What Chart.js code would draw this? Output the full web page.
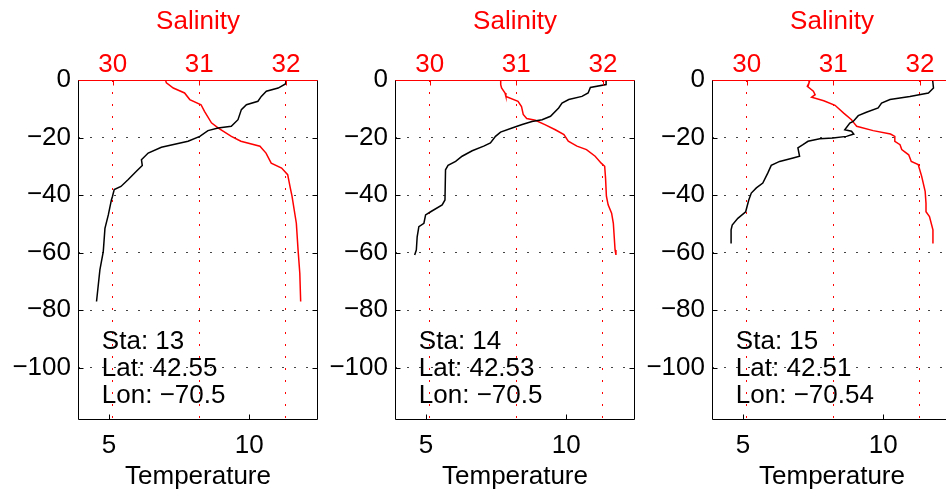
<!DOCTYPE html>
<html>
<head>
<meta charset="utf-8">
<script src="https://cdn.jsdelivr.net/npm/chart.js@4.4.1/dist/chart.umd.min.js"></script>
<style>
  html, body { margin: 0; padding: 0; background: #fff; overflow: hidden; }
  #wrap { position: relative; width: 946px; height: 497px; overflow: hidden; }
  canvas { position: absolute; top: 0; }
</style>
</head>
<body>
<div id="wrap">
  <canvas id="p1" width="322" height="497" style="left:0px"></canvas>
  <canvas id="p2" width="322" height="497" style="left:317px"></canvas>
  <canvas id="p3" width="322" height="497" style="left:634px"></canvas>
</div>
<script>
// axis ticks
const depthTicks = [0, -20, -40, -60, -80, -100];
const tempTicks = [5, 10];
const salTicks = [30, 31, 32];

// station labels
const stations = [13, 14, 15];
const lats = [42.55, 42.53, 42.51];
const lons = [-70.5, -70.5, -70.54];

// station 13
const tDepth13 = [0, -1.4, -2.8, -3.9, -5.7, -7.4, -8.6, -10.3, -13.8, -16.1, -16.7, -17.6, -19.6, -21.3, -23.4, -25.4, -27.7, -29.7, -31.7, -34.6, -37.0, -38.1, -40.4, -41.7, -46.9, -51.6, -59.7, -66.0, -77.0];
const temp13 = [11.33, 11.29, 11.03, 10.61, 10.43, 10.31, 9.90, 9.72, 9.60, 9.36, 8.89, 8.53, 8.24, 7.82, 6.87, 6.40, 6.16, 6.19, 5.98, 5.69, 5.43, 5.19, 5.13, 5.09, 4.98, 4.86, 4.80, 4.68, 4.56];
const sDepth13 = [0, -1.0, -2.8, -4.5, -6.8, -8.6, -10.9, -14.9, -16.7, -19.6, -21.3, -23.0, -25.4, -28.9, -30.6, -32.9, -37.5, -40.4, -49.8, -59.1, -67.2, -77.0];
const sal13 = [30.61, 30.62, 30.70, 30.83, 30.89, 31.02, 31.06, 31.14, 31.22, 31.37, 31.48, 31.70, 31.77, 31.83, 31.95, 32.02, 32.05, 32.07, 32.12, 32.14, 32.16, 32.17];

// station 14
const tDepth14 = [0, -1.6, -2.6, -4.5, -5.7, -6.8, -8.0, -9.7, -12.6, -13.8, -14.4, -15.5, -16.7, -18.1, -19.6, -21.9, -23.0, -24.6, -26.5, -28.3, -29.7, -31.2, -41.7, -43.4, -45.8, -46.9, -49.8, -51.0, -54.5, -59.1, -60.8];
const temp14 = [11.42, 11.42, 10.86, 10.78, 10.56, 10.09, 9.85, 9.73, 9.44, 9.14, 8.78, 8.43, 8.07, 7.66, 7.48, 7.30, 7.06, 6.65, 6.29, 6.06, 5.79, 5.70, 5.68, 5.58, 5.17, 4.99, 4.93, 4.75, 4.69, 4.66, 4.60];
const sDepth14 = [0, -1.6, -2.8, -4.5, -5.7, -7.4, -9.2, -12.0, -13.4, -14.0, -15.5, -17.3, -19.0, -21.3, -23.0, -24.2, -26.5, -28.9, -30.0, -34.1, -40.4, -43.4, -46.3, -49.8, -59.1, -60.8];
const sal14 = [30.82, 30.82, 30.83, 30.87, 30.88, 31.02, 31.06, 31.08, 31.12, 31.22, 31.33, 31.45, 31.55, 31.60, 31.70, 31.81, 31.91, 31.98, 32.02, 32.03, 32.04, 32.06, 32.10, 32.12, 32.14, 32.15];

// station 15
const tDepth15 = [0, -2.8, -4.5, -5.7, -6.8, -8.0, -9.7, -11.2, -12.4, -14.4, -15.0, -17.3, -17.8, -18.8, -19.6, -20.2, -20.4, -21.3, -22.5, -23.6, -26.5, -27.1, -28.3, -29.7, -32.3, -35.8, -37.5, -39.3, -41.7, -45.8, -48.1, -50.4, -52.1, -56.8];
const temp15 = [11.76, 11.79, 11.61, 10.95, 10.24, 9.94, 9.82, 9.40, 9.11, 8.93, 8.81, 8.63, 8.87, 8.95, 8.69, 8.21, 7.74, 7.32, 7.14, 6.96, 7.02, 6.79, 6.31, 6.01, 5.89, 5.71, 5.48, 5.30, 5.21, 5.10, 4.82, 4.62, 4.58, 4.58];
const sDepth15 = [0, -1.0, -2.2, -3.9, -5.1, -6.0, -7.2, -8.8, -11.5, -13.8, -15.0, -16.1, -17.6, -18.8, -19.6, -21.3, -22.5, -24.2, -26.0, -28.3, -29.4, -33.5, -38.7, -42.9, -45.8, -47.5, -52.1, -56.8];
const sal15 = [30.73, 30.72, 30.70, 30.77, 30.79, 30.75, 30.89, 31.02, 31.12, 31.21, 31.24, 31.27, 31.46, 31.66, 31.71, 31.71, 31.77, 31.79, 31.87, 31.90, 31.98, 32.02, 32.06, 32.07, 32.07, 32.11, 32.15, 32.15];

const RED = '#ff0000';
const FONT = "'Liberation Sans', Arial, Helvetica, sans-serif";
Chart.defaults.font.family = FONT;
Chart.defaults.font.size = 26;
Chart.defaults.color = '#000';

const minus = v => String(v).replace('-', '\u2212');
const pts = (xs, ys) => xs.map((x, i) => ({ x: x, y: ys[i] }));

// box, inward ticks and station text
const framePlugin = {
  id: 'frame',
  afterDraw(chart) {
    const { ctx, chartArea: a, scales } = chart;
    const L = a.left + 0.5, R = a.right - 0.5, T = a.top + 0.5, B = a.bottom - 0.5;
    ctx.save();
    ctx.lineWidth = 1;
    ctx.strokeStyle = '#000';
    ctx.beginPath();
    scales.y.ticks.forEach(t => {
      const y = Math.round(scales.y.getPixelForValue(t.value)) + 0.5;
      ctx.moveTo(L, y); ctx.lineTo(L + 5, y);
      ctx.moveTo(R, y); ctx.lineTo(R - 5, y);
    });
    scales.xT.ticks.forEach(t => {
      const x = Math.round(scales.xT.getPixelForValue(t.value)) + 0.5;
      ctx.moveTo(x, B); ctx.lineTo(x, B - 5);
    });
    ctx.moveTo(L, T); ctx.lineTo(L, B); ctx.lineTo(R, B); ctx.lineTo(R, T);
    ctx.stroke();

    ctx.strokeStyle = RED;
    ctx.beginPath();
    ctx.moveTo(L, T); ctx.lineTo(R, T);
    scales.xS.ticks.forEach(t => {
      const x = Math.round(scales.xS.getPixelForValue(t.value)) + 0.5;
      ctx.moveTo(x, T); ctx.lineTo(x, T + 5);
    });
    ctx.stroke();

    const info = chart.options.plugins.frame;
    const x = scales.xT.getPixelForValue(4.75);
    const y = scales.y.getPixelForValue(-100) + 1;
    ctx.fillStyle = '#000';
    ctx.font = '26px ' + FONT;
    ctx.textAlign = 'left';
    ctx.textBaseline = 'middle';
    ctx.fillText('Sta: ' + info.sta, x, y - 27);
    ctx.fillText('Lat: ' + info.lat, x, y);
    ctx.fillText('Lon: ' + minus(info.lon), x, y + 27);
    ctx.restore();
  }
};

function makePanel(id, temp, tDepth, sal, sDepth, k) {
  new Chart(document.getElementById(id), {
    type: 'scatter',
    data: {
      datasets: [
        { data: pts(temp, tDepth), xAxisID: 'xT', yAxisID: 'y', showLine: true,
          borderColor: '#000', borderWidth: 1.5, pointRadius: 0, tension: 0 },
        { data: pts(sal, sDepth), xAxisID: 'xS', yAxisID: 'y', showLine: true,
          borderColor: RED, borderWidth: 1.5, pointRadius: 0, tension: 0 }
      ]
    },
    options: {
      responsive: false,
      animation: false,
      devicePixelRatio: 1,
      layout: { padding: { left: 0, right: 4, top: 0, bottom: 0 } },
      plugins: {
        legend: { display: false },
        tooltip: { enabled: false },
        frame: { sta: stations[k], lat: lats[k], lon: lons[k] }
      },
      scales: {
        y: {
          type: 'linear', position: 'left', min: -118.2, max: 0,
          afterBuildTicks: s => { s.ticks = depthTicks.map(v => ({ value: v })); },
          afterFit: s => { s.width = 78; },
          ticks: { padding: 7, callback: v => minus(v), color: '#000' },
          grid: { color: '#444', lineWidth: 1, drawTicks: false },
          border: { display: false, dash: [2, 10] }
        },
        xT: {
          type: 'linear', position: 'bottom', min: 3.9, max: 12.45,
          afterBuildTicks: s => { s.ticks = tempTicks.map(v => ({ value: v })); },
          afterFit: s => { s.height = 77; },
          ticks: { padding: 2, maxRotation: 0, color: '#000' },
          grid: { display: false },
          border: { display: false },
          title: { display: true, text: 'Temperature', color: '#000',
                   padding: { top: 0, bottom: 5 } }
        },
        xS: {
          type: 'linear', position: 'top', min: 29.6, max: 32.37,
          afterBuildTicks: s => { s.ticks = salTicks.map(v => ({ value: v })); },
          afterFit: s => { s.height = 80; },
          ticks: { padding: 0, maxRotation: 0, color: RED },
          grid: { color: RED, lineWidth: 1, drawTicks: false },
          border: { display: false, dash: [2, 10] },
          title: { display: true, text: 'Salinity', color: RED,
                   padding: { top: 6, bottom: 0 } }
        }
      }
    },
    plugins: [framePlugin]
  });
}

makePanel('p1', temp13, tDepth13, sal13, sDepth13, 0);
makePanel('p2', temp14, tDepth14, sal14, sDepth14, 1);
makePanel('p3', temp15, tDepth15, sal15, sDepth15, 2);
</script>
</body>
</html>
